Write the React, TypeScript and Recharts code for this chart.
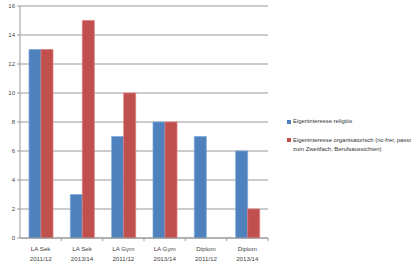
import { BarChart, Bar, XAxis, YAxis, CartesianGrid } from "recharts";

// Eigeninteresse nach Studiengang — grouped bars, Excel-like look

const categories = [
  "LA Sek\n2011/12",
  "LA Sek\n2013/14",
  "LA Gym\n2011/12",
  "LA Gym\n2013/14",
  "Diplom\n2011/12",
  "Diplom\n2013/14",
];
const religioes = [13, 3, 7, 8, 7, 6];
const organisatorisch = [13, 15, 10, 8, 0, 2];
const yTicks = [0, 2, 4, 6, 8, 10, 12, 14, 16];

const seriesNames = [
  "Eigeninteresse religiös",
  "Eigeninteresse organisatorisch (nc-frei; passt zum Zweitfach, Berufsaussichten)",
];

const BLUE = "#4f81bd";
const RED = "#c0504d";
const FONT = "'Liberation Sans', Arial, sans-serif";

const W = 420;
const H = 269;
const M = { top: 6, right: 152, bottom: 0, left: 0 };
const Y_W = 20;
const X_H = 31;
const BAND = (W - M.left - M.right - Y_W) / categories.length;

const data = categories.map((c, i) => ({
  name: c,
  rel: religioes[i],
  org: organisatorisch[i],
}));

function CatTick(props: any) {
  const { x, y, payload } = props;
  const lines = String(payload.value).split("\n");
  return (
    <g>
      <line x1={x + BAND / 2} x2={x + BAND / 2} y1={y - 8} y2={y - 5} stroke="#999" />
      <text x={x} y={y + 5} textAnchor="middle" fontSize={6.2} fill="#444" fontFamily={FONT}>
        {lines.map((l, i) => (
          <tspan key={i} x={x} dy={i === 0 ? 0 : 9.5}>
            {l}
          </tspan>
        ))}
      </text>
    </g>
  );
}

export default function App() {
  return (
    <div style={{ position: "fixed", left: 0, top: 0, width: W, height: H, background: "#fff" }}>
      <BarChart width={W} height={H} data={data} margin={M} barGap={0} barSize={12}>
        <CartesianGrid vertical={false} stroke="#999" />
        <XAxis
          dataKey="name"
          height={X_H}
          interval={0}
          tickLine={false}
          axisLine={{ stroke: "#999" }}
          tick={<CatTick />}
        />
        <YAxis
          width={Y_W}
          domain={[0, 16]}
          ticks={yTicks}
          interval={0}
          tickSize={3}
          tickLine={{ stroke: "#999" }}
          axisLine={{ stroke: "#999" }}
          tick={{ fontSize: 6, fill: "#444", fontFamily: FONT }}
        />
        <Bar dataKey="rel" fill={BLUE} stroke="#7aa6dc" strokeWidth={0.7} isAnimationActive={false} />
        <Bar dataKey="org" fill={RED} stroke="#e07a78" strokeWidth={0.7} isAnimationActive={false} />
      </BarChart>
      <div style={{ position: "absolute", left: 287, top: 117, width: 128, fontFamily: FONT, fontSize: 5.9, color: "#333", lineHeight: "9.5px" }}>
        <div style={{ display: "flex", alignItems: "flex-start" }}>
          <span style={{ width: 4, height: 4, background: BLUE, marginTop: 2.5, marginRight: 2, flex: "none" }} />
          <span>{seriesNames[0]}</span>
        </div>
        <div style={{ display: "flex", alignItems: "flex-start", marginTop: 9 }}>
          <span style={{ width: 4, height: 4, background: RED, marginTop: 2.5, marginRight: 2, flex: "none" }} />
          <span>{seriesNames[1]}</span>
        </div>
      </div>
    </div>
  );
}
